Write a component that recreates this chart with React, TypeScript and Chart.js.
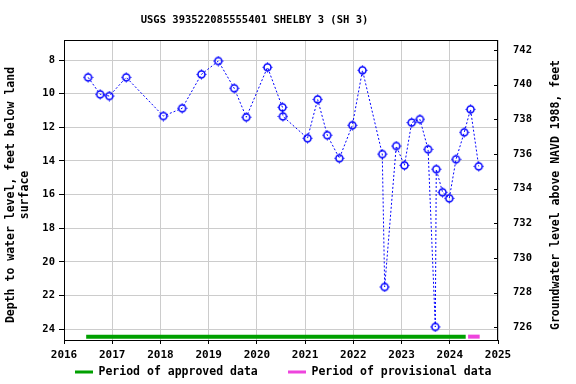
import { useEffect, useRef } from "react";
import { Chart, registerables } from "chart.js";

Chart.register(...registerables);

const TITLE = "USGS 393522085555401 SHELBY 3 (SH 3)";
const LEFT_TITLE = ["Depth to water level, feet below land", "surface"];
const RIGHT_TITLE = "Groundwater level above NAVD 1988, feet";

const YEAR_TICKS = [2016, 2017, 2018, 2019, 2020, 2021, 2022, 2023, 2024, 2025];
const DEPTH_TICKS = [8, 10, 12, 14, 16, 18, 20, 22, 24];
const ELEV_TICKS = [726, 728, 730, 732, 734, 736, 738, 740, 742];

// sample dates as decimal years
const sampleDates = [
  2016.5, 2016.75, 2016.94, 2017.29, 2018.06, 2018.45, 2018.85, 2019.2, 2019.53,
  2019.78, 2020.22, 2020.53, 2020.54, 2021.05, 2021.26, 2021.46, 2021.71, 2021.98,
  2022.19, 2022.6, 2022.65, 2022.89, 2023.06, 2023.21, 2023.38, 2023.55, 2023.7,
  2023.72, 2023.85, 2023.99, 2024.13, 2024.3, 2024.43, 2024.6,
];
// depth to water, feet below land surface
const depths = [
  9.03, 10.04, 10.14, 9.03, 11.33, 10.87, 8.85, 8.06, 9.68,
  11.4, 8.43, 10.81, 11.35, 12.65, 10.34, 12.47, 13.84, 11.88,
  8.61, 13.59, 21.49, 13.11, 14.26, 11.72, 11.52, 13.31, 23.86,
  14.49, 15.86, 16.22, 13.9, 12.3, 10.93, 14.32,
];

const approvedPeriod = [2016.46, 2024.33];
const provisionalPeriod = [2024.38, 2024.62];
const PERIOD_BAR_DEPTH = 24.44;

const LEGEND_LABELS = ["Period of approved data", "Period of provisional data"];
const APPROVED_COLOR = "#00a000";
const PROVISIONAL_COLOR = "#ee44dd";
const DATA_COLOR = "#0000ff";

const DEPTH_MIN = 6.81;
const DEPTH_MAX = 24.64;
const ELEV_MIN = 725.27;
const ELEV_MAX = 742.58;

const MONO = "'DejaVu Sans Mono', monospace";

function makeMarker(): HTMLCanvasElement {
  const c = document.createElement("canvas");
  c.width = 11;
  c.height = 11;
  const g = c.getContext("2d")!;
  g.strokeStyle = DATA_COLOR;
  g.fillStyle = DATA_COLOR;
  g.lineWidth = 1.5;
  g.beginPath();
  g.arc(5.5, 5.5, 3.5, 0, Math.PI * 2);
  g.stroke();
  g.fillRect(5, 0.5, 1, 1.2);
  g.fillRect(5, 9.3, 1, 1.2);
  g.fillRect(0.5, 5, 1.2, 1);
  g.fillRect(9.3, 5, 1.2, 1);
  return c;
}

const decorPlugin = {
  id: "decor",
  afterDraw(chart: any) {
    const { ctx, chartArea } = chart;
    const { left, top, right, bottom } = chartArea;
    ctx.save();
    // frame
    ctx.strokeStyle = "#000";
    ctx.lineWidth = 1;
    ctx.strokeRect(left + 0.5, top + 0.5, right - left - 1, bottom - top);
    // inward ticks on right axis
    const y2 = chart.scales.y2;
    ctx.beginPath();
    ELEV_TICKS.forEach((v) => {
      const py = Math.round(y2.getPixelForValue(v)) + 0.5;
      ctx.moveTo(right - 4, py);
      ctx.lineTo(right, py);
    });
    ctx.stroke();

    ctx.fillStyle = "#000";
    // title
    ctx.font = `bold 10.5px ${MONO}`;
    ctx.textAlign = "center";
    ctx.textBaseline = "middle";
    ctx.fillText(TITLE, 254.5, 20);

    // axis titles
    ctx.font = `bold 11.5px ${MONO}`;
    const cy = (top + bottom) / 2 + 5;
    ctx.save();
    ctx.translate(11, cy);
    ctx.rotate(-Math.PI / 2);
    ctx.fillText(LEFT_TITLE[0], 0, 0);
    ctx.fillText(LEFT_TITLE[1], 0, 14);
    ctx.restore();
    ctx.save();
    ctx.translate(556, cy);
    ctx.rotate(-Math.PI / 2);
    ctx.fillText(RIGHT_TITLE, 0, 0);
    ctx.restore();

    // legend
    const ly = 372;
    ctx.textAlign = "left";
    ctx.fillStyle = APPROVED_COLOR;
    ctx.fillRect(75, ly - 1.5, 18, 3);
    ctx.fillStyle = "#000";
    ctx.fillText(LEGEND_LABELS[0], 98.5, ly);
    ctx.fillStyle = PROVISIONAL_COLOR;
    ctx.fillRect(288, ly - 1.5, 18, 3);
    ctx.fillStyle = "#000";
    ctx.fillText(LEGEND_LABELS[1], 311.5, ly);
    ctx.restore();
  },
};

export default function App() {
  const canvasRef = useRef<HTMLCanvasElement | null>(null);

  useEffect(() => {
    const canvas = canvasRef.current;
    if (!canvas) return;
    const marker = makeMarker();
    const points = sampleDates.map((d, i) => ({ x: d, y: depths[i] }));
    const chart = new Chart(canvas, {
      type: "line",
      data: {
        datasets: [
          {
            label: "Depth",
            data: points,
            borderColor: DATA_COLOR,
            borderWidth: 1,
            borderDash: [2, 2],
            pointStyle: marker as any,
            pointRadius: 4,
            fill: false,
            tension: 0,
            yAxisID: "y",
          },
          {
            label: LEGEND_LABELS[0],
            data: approvedPeriod.map((d) => ({ x: d, y: PERIOD_BAR_DEPTH })),
            borderColor: APPROVED_COLOR,
            borderWidth: 4,
            pointRadius: 0,
            borderCapStyle: "butt",
            yAxisID: "y",
          },
          {
            label: LEGEND_LABELS[1],
            data: provisionalPeriod.map((d) => ({ x: d, y: PERIOD_BAR_DEPTH })),
            borderColor: PROVISIONAL_COLOR,
            borderWidth: 4,
            pointRadius: 0,
            borderCapStyle: "butt",
            yAxisID: "y",
          },
        ],
      },
      options: {
        responsive: false,
        animation: false,
        events: [],
        layout: { padding: { top: 40, bottom: 0, left: 0, right: 0 } },
        plugins: {
          legend: { display: false },
          title: { display: false },
          tooltip: { enabled: false },
        },
        scales: {
          x: {
            type: "linear",
            min: YEAR_TICKS[0],
            max: YEAR_TICKS[YEAR_TICKS.length - 1],
            afterBuildTicks: (axis: any) => {
              axis.ticks = YEAR_TICKS.map((v) => ({ value: v }));
            },
            afterFit: (axis: any) => {
              axis.height = 44;
            },
            ticks: {
              autoSkip: false,
              maxRotation: 0,
              padding: 5,
              color: "#000",
              font: { family: MONO, size: 11, weight: "bold" },
              callback: (v: any) => String(v),
            },
            grid: { color: "#cccccc", tickColor: "#000", tickLength: 4 },
            border: { display: false },
          },
          y: {
            type: "linear",
            position: "left",
            reverse: true,
            min: DEPTH_MIN,
            max: DEPTH_MAX,
            afterBuildTicks: (axis: any) => {
              axis.ticks = DEPTH_TICKS.map((v) => ({ value: v }));
            },
            afterFit: (axis: any) => {
              axis.width = 64;
            },
            ticks: {
              padding: 4,
              color: "#000",
              font: { family: MONO, size: 10.5, weight: "bold" },
              callback: (v: any) => String(v),
            },
            grid: { color: "#cccccc", tickColor: "#000", tickLength: 5 },
            border: { display: false },
          },
          y2: {
            type: "linear",
            position: "right",
            min: ELEV_MIN,
            max: ELEV_MAX,
            afterBuildTicks: (axis: any) => {
              axis.ticks = ELEV_TICKS.map((v) => ({ value: v }));
            },
            afterFit: (axis: any) => {
              axis.width = 78;
            },
            ticks: {
              padding: 15,
              color: "#000",
              font: { family: MONO, size: 10.5, weight: "bold" },
              callback: (v: any) => String(v),
            },
            grid: { drawOnChartArea: false, drawTicks: false },
            border: { display: false },
          },
        },
      },
      plugins: [decorPlugin],
    });
    return () => chart.destroy();
  }, []);

  return (
    <div style={{ position: "absolute", left: 0, top: 0, width: 576, height: 384 }}>
      <canvas ref={canvasRef} width={576} height={384} />
    </div>
  );
}
